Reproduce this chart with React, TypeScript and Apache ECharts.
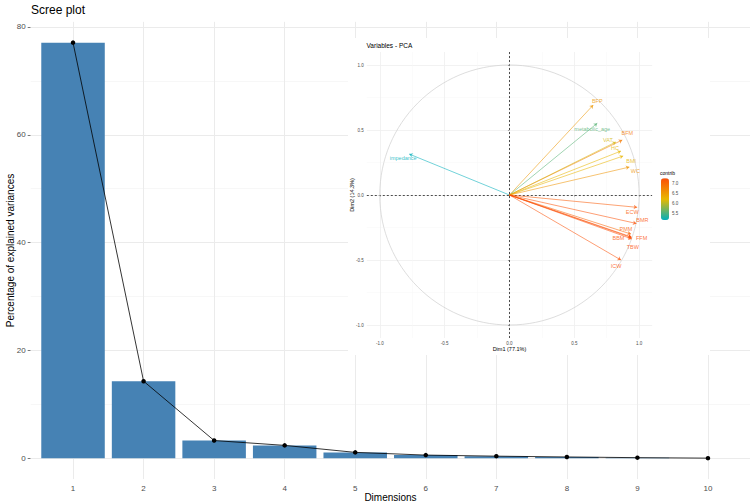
import React, { useEffect, useRef } from "react";
import * as echarts from "echarts";

// ---- Scree plot data ----
const dimensions = [1, 2, 3, 4, 5, 6, 7, 8, 9, 10];
const explainedVariance = [77.1, 14.3, 3.3, 2.4, 1.1, 0.6, 0.4, 0.25, 0.12, 0.03];
const yMajorTicks = [0, 20, 40, 60, 80];
const yMinorTicks = [10, 30, 50, 70];

// ---- PCA variables (inset) ----
const pcaVariables = ["impedance", "BFP", "metabolic_age", "BFM", "VAT", "HC", "BMI", "WC", "ECW", "BMR", "PMM", "BBM", "FFM", "TBW", "ICW"];
const dim1Coord = [-0.773, 0.646, 0.677, 0.87, 0.821, 0.86, 0.877, 0.925, 0.985, 0.979, 0.937, 0.941, 0.942, 0.944, 0.86];
const dim2Coord = [0.315, 0.692, 0.552, 0.423, 0.408, 0.338, 0.3, 0.215, -0.095, -0.219, -0.3, -0.323, -0.328, -0.338, -0.5];
const contrib = [5.17, 6.53, 5.56, 6.82, 6.13, 6.23, 6.26, 6.57, 7.14, 7.22, 7.05, 7.21, 7.25, 7.24, 7.22];
const pcaMajorTicks = [-1, -0.5, 0, 0.5, 1];
const pcaMinorTicks = [-0.75, -0.25, 0.25, 0.75];
const contribTicks = [5.5, 6, 6.5, 7];

// label placement (style only)
const labelOffset: Record<string, [number, number]> = {
  impedance: [-6, 4], BFP: [4, -4], metabolic_age: [-5, 6], BFM: [5, -7], VAT: [-8, -2], HC: [-6, -3],
  BMI: [8, 5], WC: [6, 4], ECW: [-5, 5], BMR: [6, -3], PMM: [-5, -5], BBM: [-13, 1], FFM: [10, 0],
  TBW: [1, 8], ICW: [-5, 6],
};

const gradientStops = ["#00AFBB", "#E7B800", "#FC4E07"];
const cMin = Math.min(...contrib);
const cMax = Math.max(...contrib);

function hexToRgb(h: string) {
  return [parseInt(h.slice(1, 3), 16), parseInt(h.slice(3, 5), 16), parseInt(h.slice(5, 7), 16)];
}
function contribColor(c: number) {
  let t = (c - cMin) / (cMax - cMin);
  t = Math.max(0, Math.min(1, t));
  const seg = t < 0.5 ? 0 : 1;
  const lt = t < 0.5 ? t / 0.5 : (t - 0.5) / 0.5;
  const a = hexToRgb(gradientStops[seg]);
  const b = hexToRgb(gradientStops[seg + 1]);
  const r = a.map((v, i) => Math.round(v + (b[i] - v) * lt));
  return `rgb(${r[0]},${r[1]},${r[2]})`;
}

const FONT = "Liberation Sans, Arial, Helvetica, sans-serif";

export default function App() {
  const ref = useRef<HTMLDivElement>(null);
  useEffect(() => {
    if (!ref.current) return;
    const chart = echarts.init(ref.current, undefined, { renderer: "svg" });

    const mainGrid = [
      ...yMajorTicks.map((v) => ({ yAxis: v, lineStyle: { color: "#ebebeb", width: 1, type: "solid" } })),
      ...yMinorTicks.map((v) => ({ yAxis: v, lineStyle: { color: "#f3f3f3", width: 0.7, type: "solid" } })),
      ...dimensions.map((d) => ({ xAxis: d, lineStyle: { color: "#ebebeb", width: 1, type: "solid" } })),
    ];
    const insetGrid = [
      ...pcaMajorTicks.map((v) => ({ yAxis: v, lineStyle: { color: "#efefef", width: 0.8, type: "solid" } })),
      ...pcaMinorTicks.map((v) => ({ yAxis: v, lineStyle: { color: "#f6f6f6", width: 0.5, type: "solid" } })),
      ...pcaMajorTicks.map((v) => ({ xAxis: v, lineStyle: { color: "#efefef", width: 0.8, type: "solid" } })),
      ...pcaMinorTicks.map((v) => ({ xAxis: v, lineStyle: { color: "#f6f6f6", width: 0.5, type: "solid" } })),
      { yAxis: 0, lineStyle: { color: "#222", width: 0.8, type: [2, 2] } },
      { xAxis: 0, lineStyle: { color: "#222", width: 0.8, type: [2, 2] } },
    ];

    const smallAxisLabel = { fontSize: 4.5, color: "#4d4d4d", fontFamily: FONT };

    chart.setOption({
      animation: false,
      backgroundColor: "#ffffff",
      textStyle: { fontFamily: FONT },
      title: [
        { text: "Scree plot", left: 31, top: 4, padding: 0, textStyle: { fontSize: 12, fontWeight: "normal", color: "#000", fontFamily: FONT } },
        { text: "Variables - PCA", left: 366.5, top: 41.5, padding: 0, z: 12, textStyle: { fontSize: 6.5, fontWeight: "normal", color: "#000", fontFamily: FONT } },
        { text: "contrib", left: 660, top: 170.5, padding: 0, z: 12, textStyle: { fontSize: 5, fontWeight: "normal", color: "#000", fontFamily: FONT } },
      ],
      graphic: [
        { type: "rect", shape: { x: 348, y: 38, width: 362, height: 317 }, style: { fill: "#ffffff" }, z: 5, silent: true },
      ],
      grid: [
        { left: 30.7, top: 21.85, width: 719.6, height: 457.25, containLabel: false, outerBoundsMode: "none" },
        { left: 366.8, top: 52, width: 285.3, height: 286, containLabel: false, outerBoundsMode: "none", z: 6 },
        { left: 661, top: 178.3, width: 8, height: 41.7, containLabel: false, outerBoundsMode: "none", z: 12 },
      ],
      xAxis: [
        {
          type: "value", gridIndex: 0, min: 0.4, max: 10.6,
          axisLine: { show: false }, splitLine: { show: false },
          axisTick: { show: true, customValues: dimensions, length: 3, lineStyle: { color: "#555", width: 0.8 } },
          axisLabel: { customValues: dimensions, fontSize: 8, color: "#4d4d4d", margin: 5 },
          name: "Dimensions", nameLocation: "middle", nameGap: 13, nameMoveOverlap: false,
          nameTextStyle: { fontSize: 10, color: "#000" },
        },
        {
          type: "value", gridIndex: 1, min: -1.1, max: 1.1, z: 8,
          axisLine: { show: false }, splitLine: { show: false },
          axisTick: { show: true, customValues: pcaMajorTicks, length: 1.5, lineStyle: { color: "#555", width: 0.5 } },
          axisLabel: { ...smallAxisLabel, customValues: pcaMajorTicks, margin: 3, formatter: (v: number) => v.toFixed(1) },
          name: "Dim1 (77.1%)", nameLocation: "middle", nameGap: 8, nameMoveOverlap: false,
          nameTextStyle: { fontSize: 5.5, color: "#000" },
        },
        { type: "value", gridIndex: 2, min: 0, max: 1, show: false },
      ],
      yAxis: [
        {
          type: "value", gridIndex: 0, min: -3.855, max: 80.955,
          axisLine: { show: false }, splitLine: { show: false },
          axisTick: { show: true, customValues: yMajorTicks, length: 3, lineStyle: { color: "#555", width: 0.8 } },
          axisLabel: { customValues: yMajorTicks, fontSize: 8, color: "#4d4d4d", margin: 5 },
          name: "Percentage of explained variances", nameLocation: "middle", nameGap: 15, nameRotate: 90,
          nameMoveOverlap: false,
          nameTextStyle: { fontSize: 10, color: "#000" },
        },
        {
          type: "value", gridIndex: 1, min: -1.1, max: 1.1, z: 8,
          axisLine: { show: false }, splitLine: { show: false },
          axisTick: { show: true, customValues: pcaMajorTicks, length: 1.5, lineStyle: { color: "#555", width: 0.5 } },
          axisLabel: { ...smallAxisLabel, customValues: pcaMajorTicks, margin: 3, formatter: (v: number) => v.toFixed(1) },
          name: "Dim2 (14.3%)", nameLocation: "middle", nameGap: 11.5, nameRotate: 90, nameMoveOverlap: false,
          nameTextStyle: { fontSize: 5.5, color: "#000" },
        },
        {
          type: "value", gridIndex: 2, min: cMin, max: cMax, position: "right", z: 12,
          axisLine: { show: false }, splitLine: { show: false }, axisTick: { show: false },
          axisLabel: { customValues: contribTicks, fontSize: 4.5, color: "#4d4d4d", margin: 3, formatter: (v: number) => v.toFixed(1) },
        },
      ],
      visualMap: [
        {
          type: "continuous", min: cMin, max: cMax, dimension: 2, seriesIndex: 4,
          inRange: { color: gradientStops }, calculable: false, hoverLink: false,
          itemWidth: 8, itemHeight: 41.7, left: 661, top: 178.3, padding: 0, text: null,
          showLabel: false, z: 12,
        },
      ],
      series: [
        {
          type: "bar", xAxisIndex: 0, yAxisIndex: 0, z: 2,
          data: dimensions.map((d, i) => [d, explainedVariance[i]]),
          barWidth: 63.5, itemStyle: { color: "#4682B4" },
          markLine: { silent: true, symbol: "none", z: 1, label: { show: false }, animation: false, data: mainGrid },
        },
        {
          type: "line", xAxisIndex: 0, yAxisIndex: 0, z: 3,
          data: dimensions.map((d, i) => [d, explainedVariance[i]]),
          symbol: "circle", symbolSize: 4.5, itemStyle: { color: "#000" },
          lineStyle: { color: "#000", width: 0.8 },
        },
        {
          type: "custom", xAxisIndex: 1, yAxisIndex: 1, z: 7, silent: true,
          data: [[0, 0]],
          renderItem: (params: any, api: any) => {
            const c = api.coord([0, 0]);
            const r = api.size([1, 1]);
            return {
              type: "ellipse",
              shape: { cx: c[0], cy: c[1], rx: r[0], ry: r[1] },
              style: { fill: "none", stroke: "#d4d4d4", lineWidth: 0.8 },
            };
          },
          markLine: { silent: true, symbol: "none", z: 6, label: { show: false }, animation: false, data: insetGrid },
        },
        {
          type: "lines", coordinateSystem: "cartesian2d", xAxisIndex: 1, yAxisIndex: 1, z: 10, silent: true,
          symbol: ["none", "arrow"], symbolSize: 3.5,
          lineStyle: { width: 0.8, opacity: 0.7 },
          data: pcaVariables.map((name, i) => ({
            name,
            coords: [[0, 0], [dim1Coord[i], dim2Coord[i]]],
            lineStyle: { color: contribColor(contrib[i]) },
          })),
        },
        {
          type: "scatter", xAxisIndex: 1, yAxisIndex: 1, z: 11, silent: true, symbolSize: 0,
          data: pcaVariables.map((name, i) => ({
            name,
            value: [dim1Coord[i], dim2Coord[i], contrib[i]],
            label: {
              show: true, formatter: "{b}", position: "inside",
              offset: labelOffset[name] || [0, 0],
              fontSize: 5.5, color: contribColor(contrib[i]), fontFamily: FONT,
            },
          })),
        },
      ],
    });
    return () => chart.dispose();
  }, []);
  return <div ref={ref} style={{ position: "absolute", left: 0, top: 0, width: 750, height: 504 }} />;
}
